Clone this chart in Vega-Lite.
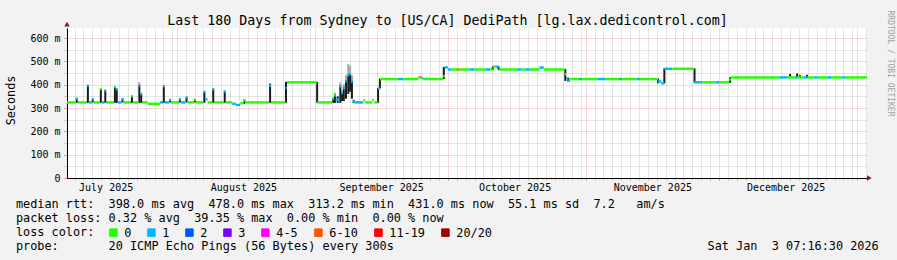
{
  "$schema": "https://vega.github.io/schema/vega-lite/v6.json",
  "width": 800,
  "height": 150,
  "autosize": {"type": "none"},
  "padding": {"left": 67, "top": 28, "right": 30, "bottom": 82},
  "background": "#f2f2f2",
  "config": {
    "view": {"fill": "#ffffff", "stroke": null},
    "font": "DejaVu Sans Mono",
    "axis": {"labelFont": "DejaVu Sans Mono", "titleFont": "DejaVu Sans Mono", "titleFontWeight": "normal", "labelColor": "#000000", "titleColor": "#000000", "domainColor": "#1f1f1f", "domainWidth": 1},
    "legend": {"labelFont": "DejaVu Sans Mono"}
  },
  "datasets": {
    "median": [
      {"t":"2025-07-07T07:16:30Z","t2":"2025-07-09T07:00:00Z","v":324,"loss":"0"},
      {"t":"2025-07-09T07:00:00Z","t2":"2025-07-09T19:00:00Z","v":340,"loss":"1"},
      {"t":"2025-07-09T19:00:00Z","t2":"2025-07-11T19:00:00Z","v":324,"loss":"0"},
      {"t":"2025-07-11T19:00:00Z","t2":"2025-07-12T05:00:00Z","v":396,"loss":"1"},
      {"t":"2025-07-12T05:00:00Z","t2":"2025-07-12T22:00:00Z","v":324,"loss":"1"},
      {"t":"2025-07-12T22:00:00Z","t2":"2025-07-13T07:00:00Z","v":338,"loss":"1"},
      {"t":"2025-07-13T07:00:00Z","t2":"2025-07-14T17:00:00Z","v":324,"loss":"0"},
      {"t":"2025-07-14T17:00:00Z","t2":"2025-07-15T02:00:00Z","v":381,"loss":"0"},
      {"t":"2025-07-15T02:00:00Z","t2":"2025-07-15T17:00:00Z","v":324,"loss":"1"},
      {"t":"2025-07-15T17:00:00Z","t2":"2025-07-16T02:00:00Z","v":375,"loss":"1"},
      {"t":"2025-07-16T02:00:00Z","t2":"2025-07-17T22:00:00Z","v":324,"loss":"0"},
      {"t":"2025-07-17T22:00:00Z","t2":"2025-07-18T07:00:00Z","v":390,"loss":"0"},
      {"t":"2025-07-18T07:00:00Z","t2":"2025-07-18T17:00:00Z","v":380,"loss":"1"},
      {"t":"2025-07-18T17:00:00Z","t2":"2025-07-19T14:00:00Z","v":324,"loss":"1"},
      {"t":"2025-07-19T14:00:00Z","t2":"2025-07-20T00:00:00Z","v":338,"loss":"1"},
      {"t":"2025-07-20T00:00:00Z","t2":"2025-07-21T17:00:00Z","v":324,"loss":"0"},
      {"t":"2025-07-21T17:00:00Z","t2":"2025-07-22T02:00:00Z","v":350,"loss":"0"},
      {"t":"2025-07-22T02:00:00Z","t2":"2025-07-23T10:00:00Z","v":324,"loss":"0"},
      {"t":"2025-07-23T10:00:00Z","t2":"2025-07-23T19:00:00Z","v":396,"loss":"1"},
      {"t":"2025-07-23T19:00:00Z","t2":"2025-07-24T05:00:00Z","v":360,"loss":"1"},
      {"t":"2025-07-24T05:00:00Z","t2":"2025-07-25T10:00:00Z","v":324,"loss":"0"},
      {"t":"2025-07-25T10:00:00Z","t2":"2025-07-28T05:00:00Z","v":318,"loss":"0"},
      {"t":"2025-07-28T05:00:00Z","t2":"2025-07-28T22:00:00Z","v":324,"loss":"1"},
      {"t":"2025-07-28T22:00:00Z","t2":"2025-07-29T07:00:00Z","v":393,"loss":"1"},
      {"t":"2025-07-29T07:00:00Z","t2":"2025-07-30T07:00:00Z","v":324,"loss":"1"},
      {"t":"2025-07-30T07:00:00Z","t2":"2025-07-30T17:00:00Z","v":335,"loss":"1"},
      {"t":"2025-07-30T17:00:00Z","t2":"2025-08-01T12:00:00Z","v":324,"loss":"0"},
      {"t":"2025-08-01T12:00:00Z","t2":"2025-08-01T22:00:00Z","v":338,"loss":"1"},
      {"t":"2025-08-01T22:00:00Z","t2":"2025-08-03T00:00:00Z","v":324,"loss":"1"},
      {"t":"2025-08-03T00:00:00Z","t2":"2025-08-03T10:00:00Z","v":345,"loss":"1"},
      {"t":"2025-08-03T10:00:00Z","t2":"2025-08-04T22:00:00Z","v":324,"loss":"0"},
      {"t":"2025-08-04T22:00:00Z","t2":"2025-08-05T07:00:00Z","v":335,"loss":"0"},
      {"t":"2025-08-05T07:00:00Z","t2":"2025-08-07T00:00:00Z","v":324,"loss":"0"},
      {"t":"2025-08-07T00:00:00Z","t2":"2025-08-07T10:00:00Z","v":369,"loss":"1"},
      {"t":"2025-08-07T10:00:00Z","t2":"2025-08-07T22:00:00Z","v":337,"loss":"1"},
      {"t":"2025-08-07T22:00:00Z","t2":"2025-08-09T00:00:00Z","v":324,"loss":"0"},
      {"t":"2025-08-09T00:00:00Z","t2":"2025-08-09T10:00:00Z","v":381,"loss":"1"},
      {"t":"2025-08-09T10:00:00Z","t2":"2025-08-11T14:00:00Z","v":324,"loss":"0"},
      {"t":"2025-08-11T14:00:00Z","t2":"2025-08-12T00:00:00Z","v":371,"loss":"1"},
      {"t":"2025-08-12T00:00:00Z","t2":"2025-08-13T12:00:00Z","v":324,"loss":"0"},
      {"t":"2025-08-13T12:00:00Z","t2":"2025-08-14T07:00:00Z","v":318,"loss":"1"},
      {"t":"2025-08-14T07:00:00Z","t2":"2025-08-15T07:00:00Z","v":313,"loss":"1"},
      {"t":"2025-08-15T07:00:00Z","t2":"2025-08-15T22:00:00Z","v":320,"loss":"0"},
      {"t":"2025-08-15T22:00:00Z","t2":"2025-08-16T12:00:00Z","v":333,"loss":"0"},
      {"t":"2025-08-16T12:00:00Z","t2":"2025-08-21T19:00:00Z","v":324,"loss":"0"},
      {"t":"2025-08-21T19:00:00Z","t2":"2025-08-22T05:00:00Z","v":396,"loss":"1"},
      {"t":"2025-08-22T05:00:00Z","t2":"2025-08-25T12:00:00Z","v":324,"loss":"0"},
      {"t":"2025-08-25T12:00:00Z","t2":"2025-08-25T19:00:00Z","v":386,"loss":"1"},
      {"t":"2025-08-25T19:00:00Z","t2":"2025-09-01T14:00:00Z","v":410,"loss":"0"},
      {"t":"2025-09-01T14:00:00Z","t2":"2025-09-05T00:00:00Z","v":324,"loss":"0"},
      {"t":"2025-09-05T00:00:00Z","t2":"2025-09-05T10:00:00Z","v":340,"loss":"1"},
      {"t":"2025-09-05T10:00:00Z","t2":"2025-09-05T19:00:00Z","v":355,"loss":"0"},
      {"t":"2025-09-05T19:00:00Z","t2":"2025-09-06T12:00:00Z","v":335,"loss":"1"},
      {"t":"2025-09-06T12:00:00Z","t2":"2025-09-07T00:00:00Z","v":393,"loss":"1"},
      {"t":"2025-09-07T00:00:00Z","t2":"2025-09-07T10:00:00Z","v":365,"loss":"1"},
      {"t":"2025-09-07T10:00:00Z","t2":"2025-09-07T22:00:00Z","v":385,"loss":"1"},
      {"t":"2025-09-07T22:00:00Z","t2":"2025-09-08T07:00:00Z","v":415,"loss":"1"},
      {"t":"2025-09-08T07:00:00Z","t2":"2025-09-08T19:00:00Z","v":440,"loss":"1"},
      {"t":"2025-09-08T19:00:00Z","t2":"2025-09-09T05:00:00Z","v":445,"loss":"1"},
      {"t":"2025-09-09T05:00:00Z","t2":"2025-09-09T14:00:00Z","v":412,"loss":"1"},
      {"t":"2025-09-09T14:00:00Z","t2":"2025-09-10T00:00:00Z","v":330,"loss":"1"},
      {"t":"2025-09-10T00:00:00Z","t2":"2025-09-12T00:00:00Z","v":324,"loss":"1"},
      {"t":"2025-09-12T00:00:00Z","t2":"2025-09-12T10:00:00Z","v":333,"loss":"0"},
      {"t":"2025-09-12T10:00:00Z","t2":"2025-09-14T00:00:00Z","v":324,"loss":"0"},
      {"t":"2025-09-14T00:00:00Z","t2":"2025-09-14T10:00:00Z","v":334,"loss":"0"},
      {"t":"2025-09-14T10:00:00Z","t2":"2025-09-15T05:00:00Z","v":324,"loss":"0"},
      {"t":"2025-09-15T05:00:00Z","t2":"2025-09-15T17:00:00Z","v":384,"loss":"1"},
      {"t":"2025-09-15T17:00:00Z","t2":"2025-09-19T19:00:00Z","v":424,"loss":"0"},
      {"t":"2025-09-19T19:00:00Z","t2":"2025-09-21T00:00:00Z","v":424,"loss":"1"},
      {"t":"2025-09-21T00:00:00Z","t2":"2025-09-24T07:00:00Z","v":424,"loss":"0"},
      {"t":"2025-09-24T07:00:00Z","t2":"2025-09-24T19:00:00Z","v":431,"loss":"0"},
      {"t":"2025-09-24T19:00:00Z","t2":"2025-09-25T02:00:00Z","v":431,"loss":"6-10"},
      {"t":"2025-09-25T02:00:00Z","t2":"2025-09-25T10:00:00Z","v":428,"loss":"1"},
      {"t":"2025-09-25T10:00:00Z","t2":"2025-09-29T22:00:00Z","v":424,"loss":"0"},
      {"t":"2025-09-29T22:00:00Z","t2":"2025-09-30T07:00:00Z","v":436,"loss":"0"},
      {"t":"2025-09-30T07:00:00Z","t2":"2025-10-01T00:00:00Z","v":474,"loss":"1"},
      {"t":"2025-10-01T00:00:00Z","t2":"2025-10-01T19:00:00Z","v":465,"loss":"1"},
      {"t":"2025-10-01T19:00:00Z","t2":"2025-10-03T02:00:00Z","v":465,"loss":"0"},
      {"t":"2025-10-03T02:00:00Z","t2":"2025-10-03T12:00:00Z","v":465,"loss":"6-10"},
      {"t":"2025-10-03T12:00:00Z","t2":"2025-10-06T00:00:00Z","v":465,"loss":"0"},
      {"t":"2025-10-06T00:00:00Z","t2":"2025-10-07T00:00:00Z","v":465,"loss":"1"},
      {"t":"2025-10-07T00:00:00Z","t2":"2025-10-09T12:00:00Z","v":465,"loss":"0"},
      {"t":"2025-10-09T12:00:00Z","t2":"2025-10-10T12:00:00Z","v":465,"loss":"1"},
      {"t":"2025-10-10T12:00:00Z","t2":"2025-10-11T02:00:00Z","v":465,"loss":"0"},
      {"t":"2025-10-11T02:00:00Z","t2":"2025-10-11T19:00:00Z","v":477,"loss":"0"},
      {"t":"2025-10-11T19:00:00Z","t2":"2025-10-12T10:00:00Z","v":477,"loss":"1"},
      {"t":"2025-10-12T10:00:00Z","t2":"2025-10-16T12:00:00Z","v":465,"loss":"0"},
      {"t":"2025-10-16T12:00:00Z","t2":"2025-10-17T12:00:00Z","v":465,"loss":"1"},
      {"t":"2025-10-17T12:00:00Z","t2":"2025-10-18T12:00:00Z","v":465,"loss":"0"},
      {"t":"2025-10-18T12:00:00Z","t2":"2025-10-19T12:00:00Z","v":465,"loss":"1"},
      {"t":"2025-10-19T12:00:00Z","t2":"2025-10-21T14:00:00Z","v":465,"loss":"0"},
      {"t":"2025-10-21T14:00:00Z","t2":"2025-10-22T14:00:00Z","v":473,"loss":"1"},
      {"t":"2025-10-22T14:00:00Z","t2":"2025-10-27T07:00:00Z","v":465,"loss":"0"},
      {"t":"2025-10-27T07:00:00Z","t2":"2025-10-27T14:00:00Z","v":445,"loss":"0"},
      {"t":"2025-10-27T14:00:00Z","t2":"2025-10-28T00:00:00Z","v":428,"loss":"1"},
      {"t":"2025-10-28T00:00:00Z","t2":"2025-10-28T12:00:00Z","v":417,"loss":"1"},
      {"t":"2025-10-28T12:00:00Z","t2":"2025-10-30T12:00:00Z","v":424,"loss":"0"},
      {"t":"2025-10-30T12:00:00Z","t2":"2025-10-31T05:00:00Z","v":424,"loss":"1"},
      {"t":"2025-10-31T05:00:00Z","t2":"2025-11-03T19:00:00Z","v":424,"loss":"0"},
      {"t":"2025-11-03T19:00:00Z","t2":"2025-11-05T12:00:00Z","v":424,"loss":"1"},
      {"t":"2025-11-05T12:00:00Z","t2":"2025-11-08T12:00:00Z","v":424,"loss":"0"},
      {"t":"2025-11-08T12:00:00Z","t2":"2025-11-09T05:00:00Z","v":424,"loss":"1"},
      {"t":"2025-11-09T05:00:00Z","t2":"2025-11-12T12:00:00Z","v":424,"loss":"0"},
      {"t":"2025-11-12T12:00:00Z","t2":"2025-11-13T05:00:00Z","v":424,"loss":"1"},
      {"t":"2025-11-13T05:00:00Z","t2":"2025-11-17T07:00:00Z","v":424,"loss":"0"},
      {"t":"2025-11-17T07:00:00Z","t2":"2025-11-18T00:00:00Z","v":414,"loss":"1"},
      {"t":"2025-11-18T00:00:00Z","t2":"2025-11-18T17:00:00Z","v":406,"loss":"1"},
      {"t":"2025-11-18T17:00:00Z","t2":"2025-11-20T12:00:00Z","v":468,"loss":"1"},
      {"t":"2025-11-20T12:00:00Z","t2":"2025-11-25T10:00:00Z","v":468,"loss":"0"},
      {"t":"2025-11-25T10:00:00Z","t2":"2025-11-27T05:00:00Z","v":410,"loss":"1"},
      {"t":"2025-11-27T05:00:00Z","t2":"2025-11-30T05:00:00Z","v":410,"loss":"0"},
      {"t":"2025-11-30T05:00:00Z","t2":"2025-12-01T00:00:00Z","v":410,"loss":"1"},
      {"t":"2025-12-01T00:00:00Z","t2":"2025-12-03T07:00:00Z","v":410,"loss":"0"},
      {"t":"2025-12-03T07:00:00Z","t2":"2025-12-03T17:00:00Z","v":422,"loss":"0"},
      {"t":"2025-12-03T17:00:00Z","t2":"2025-12-14T17:00:00Z","v":431,"loss":"0"},
      {"t":"2025-12-14T17:00:00Z","t2":"2025-12-16T07:00:00Z","v":431,"loss":"1"},
      {"t":"2025-12-16T07:00:00Z","t2":"2025-12-18T00:00:00Z","v":431,"loss":"0"},
      {"t":"2025-12-18T00:00:00Z","t2":"2025-12-18T12:00:00Z","v":431,"loss":"1"},
      {"t":"2025-12-18T12:00:00Z","t2":"2025-12-20T00:00:00Z","v":431,"loss":"0"},
      {"t":"2025-12-20T00:00:00Z","t2":"2025-12-21T00:00:00Z","v":431,"loss":"1"},
      {"t":"2025-12-21T00:00:00Z","t2":"2025-12-22T12:00:00Z","v":431,"loss":"0"},
      {"t":"2025-12-22T12:00:00Z","t2":"2025-12-23T05:00:00Z","v":431,"loss":"1"},
      {"t":"2025-12-23T05:00:00Z","t2":"2025-12-25T12:00:00Z","v":431,"loss":"0"},
      {"t":"2025-12-25T12:00:00Z","t2":"2025-12-26T05:00:00Z","v":431,"loss":"1"},
      {"t":"2025-12-26T05:00:00Z","t2":"2025-12-28T19:00:00Z","v":431,"loss":"0"},
      {"t":"2025-12-28T19:00:00Z","t2":"2025-12-29T12:00:00Z","v":431,"loss":"1"},
      {"t":"2025-12-29T12:00:00Z","t2":"2026-01-03T07:16:30Z","v":431,"loss":"0"}
    ],
    "smoke_core": [
      {"t":"2025-07-09T12:00:00Z","lo":322,"hi":342},
      {"t":"2025-07-12T00:00:00Z","lo":322,"hi":398},
      {"t":"2025-07-13T02:00:00Z","lo":324,"hi":338},
      {"t":"2025-07-14T22:00:00Z","lo":322,"hi":383},
      {"t":"2025-07-15T22:00:00Z","lo":322,"hi":377},
      {"t":"2025-07-18T02:00:00Z","lo":322,"hi":392},
      {"t":"2025-07-18T12:00:00Z","lo":322,"hi":382},
      {"t":"2025-07-19T19:00:00Z","lo":324,"hi":340},
      {"t":"2025-07-21T22:00:00Z","lo":322,"hi":352},
      {"t":"2025-07-23T14:00:00Z","lo":322,"hi":398},
      {"t":"2025-07-24T00:00:00Z","lo":322,"hi":362},
      {"t":"2025-07-29T02:00:00Z","lo":322,"hi":395},
      {"t":"2025-07-30T12:00:00Z","lo":324,"hi":337},
      {"t":"2025-08-01T17:00:00Z","lo":324,"hi":340},
      {"t":"2025-08-03T05:00:00Z","lo":324,"hi":347},
      {"t":"2025-08-05T02:00:00Z","lo":324,"hi":337},
      {"t":"2025-08-07T05:00:00Z","lo":322,"hi":371},
      {"t":"2025-08-09T05:00:00Z","lo":322,"hi":383},
      {"t":"2025-08-11T19:00:00Z","lo":322,"hi":373},
      {"t":"2025-08-16T05:00:00Z","lo":318,"hi":335},
      {"t":"2025-08-22T00:00:00Z","lo":322,"hi":405},
      {"t":"2025-08-25T14:00:00Z","lo":322,"hi":412},
      {"t":"2025-09-01T14:00:00Z","lo":322,"hi":412},
      {"t":"2025-09-05T05:00:00Z","lo":322,"hi":342},
      {"t":"2025-09-05T14:00:00Z","lo":322,"hi":358},
      {"t":"2025-09-06T05:00:00Z","lo":322,"hi":350},
      {"t":"2025-09-06T19:00:00Z","lo":322,"hi":396},
      {"t":"2025-09-07T05:00:00Z","lo":330,"hi":370},
      {"t":"2025-09-07T14:00:00Z","lo":330,"hi":390},
      {"t":"2025-09-08T02:00:00Z","lo":340,"hi":420},
      {"t":"2025-09-08T14:00:00Z","lo":360,"hi":445},
      {"t":"2025-09-09T00:00:00Z","lo":370,"hi":448},
      {"t":"2025-09-09T10:00:00Z","lo":340,"hi":415},
      {"t":"2025-09-09T19:00:00Z","lo":322,"hi":335},
      {"t":"2025-09-15T07:00:00Z","lo":322,"hi":386},
      {"t":"2025-09-15T17:00:00Z","lo":384,"hi":426},
      {"t":"2025-09-30T02:00:00Z","lo":424,"hi":476},
      {"t":"2025-10-11T02:00:00Z","lo":463,"hi":478},
      {"t":"2025-10-12T10:00:00Z","lo":463,"hi":478},
      {"t":"2025-10-27T10:00:00Z","lo":416,"hi":467},
      {"t":"2025-10-28T02:00:00Z","lo":414,"hi":430},
      {"t":"2025-11-17T07:00:00Z","lo":406,"hi":426},
      {"t":"2025-11-18T17:00:00Z","lo":405,"hi":470},
      {"t":"2025-11-25T12:00:00Z","lo":408,"hi":470},
      {"t":"2025-12-03T12:00:00Z","lo":408,"hi":432},
      {"t":"2025-12-17T00:00:00Z","lo":430,"hi":446},
      {"t":"2025-12-18T14:00:00Z","lo":429,"hi":448},
      {"t":"2025-12-19T05:00:00Z","lo":430,"hi":441},
      {"t":"2025-12-20T19:00:00Z","lo":430,"hi":442}
    ],
    "smoke_halo": [
      {"t":"2025-07-23T14:00:00Z","lo":396,"hi":410},
      {"t":"2025-09-05T14:00:00Z","lo":350,"hi":366},
      {"t":"2025-09-06T19:00:00Z","lo":390,"hi":410},
      {"t":"2025-09-07T14:00:00Z","lo":385,"hi":402},
      {"t":"2025-09-08T02:00:00Z","lo":415,"hi":440},
      {"t":"2025-09-08T14:00:00Z","lo":440,"hi":488},
      {"t":"2025-09-09T00:00:00Z","lo":445,"hi":482},
      {"t":"2025-09-09T10:00:00Z","lo":410,"hi":440}
    ]
  },
  "resolve": {"axis": {"x": "independent", "y": "independent"}},
  "layer": [
    {
      "data": {"name": "smoke_halo"},
      "mark": {"type": "rule", "strokeWidth": 2, "color": "#a8a8a8"},
      "encoding": {
        "x": {
          "field": "t", "type": "temporal",
          "scale": {"type": "utc", "domain": [{"year": 2025, "month": 7, "date": 7, "hours": 7, "minutes": 16, "seconds": 30, "utc": true}, {"year": 2026, "month": 1, "date": 3, "hours": 7, "minutes": 16, "seconds": 30, "utc": true}]},
          "axis": {
            "orient": "bottom", "tickCount": {"interval": "day", "step": 2}, "labels": false, "title": null,
            "grid": true, "gridDash": [1, 1],
            "gridColor": {"condition": {"test": "utcdate(datum.value) === 1", "value": "rgba(222,79,79,0.45)"}, "value": "rgba(143,143,143,0.45)"},
            "ticks": true, "tickSize": 2,
            "tickColor": {"condition": {"test": "utcdate(datum.value) === 1", "value": "rgba(222,79,79,0.7)"}, "value": "rgba(143,143,143,0.5)"},
            "domain": true, "domainColor": "#000000"
          }
        },
        "y": {
          "field": "lo", "type": "quantitative",
          "scale": {"domain": [0, 642.86], "nice": false, "zero": true},
          "axis": {
            "orient": "left", "values": [0, 50, 100, 150, 200, 250, 300, 350, 400, 450, 500, 550, 600],
            "labelExpr": "datum.value % 100 !== 0 ? '' : (datum.value === 0 ? '0' : datum.value + ' m')",
            "labelFontSize": 10, "labelPadding": 4, "labelBaseline": "middle", "labelOverlap": false,
            "grid": true, "gridDash": [1, 1],
            "gridColor": {"condition": {"test": "datum.value % 100 === 0", "value": "rgba(222,79,79,0.45)"}, "value": "rgba(143,143,143,0.45)"},
            "ticks": true, "tickSize": 3,
            "tickColor": {"condition": {"test": "datum.value % 100 === 0", "value": "rgba(222,79,79,0.7)"}, "value": "rgba(143,143,143,0.5)"},
            "domain": true, "domainColor": "#000000",
            "title": "Seconds", "titleX": -52.5, "titleY": 72, "titleAngle": -90, "titleAlign": "center", "titleBaseline": "alphabetic", "titleFontSize": 11.8
          }
        },
        "y2": {"field": "hi"}
      }
    },
    {
      "data": {"name": "smoke_core"},
      "mark": {"type": "rule", "strokeWidth": 2, "color": "#1c1c1c"},
      "encoding": {
        "x": {
          "field": "t", "type": "temporal",
          "scale": {"type": "utc", "domain": [{"year": 2025, "month": 7, "date": 7, "hours": 7, "minutes": 16, "seconds": 30, "utc": true}, {"year": 2026, "month": 1, "date": 3, "hours": 7, "minutes": 16, "seconds": 30, "utc": true}]},
          "axis": {
            "orient": "bottom",
            "values": [
              {"year": 2025, "month": 7, "date": 16, "utc": true},
              {"year": 2025, "month": 8, "date": 16, "utc": true},
              {"year": 2025, "month": 9, "date": 16, "utc": true},
              {"year": 2025, "month": 10, "date": 16, "utc": true},
              {"year": 2025, "month": 11, "date": 16, "utc": true},
              {"year": 2025, "month": 12, "date": 16, "utc": true}
            ],
            "labelExpr": "utcFormat(datum.value, '%B %Y')",
            "labelFontSize": 10, "labelBaseline": "alphabetic", "labelPadding": 12.7,
            "labelFlush": false, "labelOverlap": false, "labelBound": false,
            "ticks": false, "grid": false, "domain": false,
            "title": [
              "median\u00a0rtt:\u00a0\u00a0398.0\u00a0ms\u00a0avg\u00a0\u00a0478.0\u00a0ms\u00a0max\u00a0\u00a0313.2\u00a0ms\u00a0min\u00a0\u00a0431.0\u00a0ms\u00a0now\u00a0\u00a055.1\u00a0ms\u00a0sd\u00a0\u00a07.2\u00a0\u00a0\u00a0am/s",
              "packet\u00a0loss:\u00a00.32\u00a0%\u00a0avg\u00a0\u00a039.35\u00a0%\u00a0max\u00a0\u00a00.00\u00a0%\u00a0min\u00a0\u00a00.00\u00a0%\u00a0now",
              "loss\u00a0color:",
              "probe:\u00a0\u00a0\u00a0\u00a0\u00a0\u00a0\u00a020\u00a0ICMP\u00a0Echo\u00a0Pings\u00a0(56\u00a0Bytes)\u00a0every\u00a0300s\u00a0\u00a0\u00a0\u00a0\u00a0\u00a0\u00a0\u00a0\u00a0\u00a0\u00a0\u00a0\u00a0\u00a0\u00a0\u00a0\u00a0\u00a0\u00a0\u00a0\u00a0\u00a0\u00a0\u00a0\u00a0\u00a0\u00a0\u00a0\u00a0\u00a0\u00a0\u00a0\u00a0\u00a0\u00a0\u00a0\u00a0\u00a0\u00a0\u00a0\u00a0\u00a0\u00a0\u00a0Sat\u00a0Jan\u00a0\u00a03\u00a007:16:30\u00a02026"
            ],
            "titleX": -51.6, "titleY": 29.3, "titleAlign": "left", "titleAnchor": "start", "titleBaseline": "alphabetic",
            "titleFontSize": 11.85, "titleLineHeight": 14
          }
        },
        "y": {
          "field": "lo", "type": "quantitative",
          "scale": {"domain": [0, 642.86], "nice": false, "zero": true},
          "axis": {
            "orient": "right", "labels": false, "ticks": false, "grid": false, "domain": false,
            "title": "RRDTOOL / TOBI OETIKER", "titleAngle": 90, "titleX": 22, "titleY": 35,
            "titleAlign": "center", "titleBaseline": "middle", "titleFontSize": 8, "titleColor": "#a0a0a0"
          }
        },
        "y2": {"field": "hi"}
      }
    },
    {
      "data": {"name": "median"},
      "mark": {"type": "rule", "strokeWidth": 2.5},
      "encoding": {
        "x": {
          "field": "t", "type": "temporal",
          "scale": {"type": "utc", "domain": [{"year": 2025, "month": 7, "date": 7, "hours": 7, "minutes": 16, "seconds": 30, "utc": true}, {"year": 2026, "month": 1, "date": 3, "hours": 7, "minutes": 16, "seconds": 30, "utc": true}]},
          "axis": null
        },
        "x2": {"field": "t2"},
        "y": {"field": "v", "type": "quantitative", "scale": {"domain": [0, 642.86], "nice": false, "zero": true}, "axis": null},
        "color": {
          "field": "loss", "type": "nominal",
          "scale": {
            "domain": ["0", "1", "2", "3", "4-5", "6-10", "11-19", "20/20"],
            "range": ["#26ff00", "#00b8ff", "#0059ff", "#7e00ff", "#ff00ff", "#ff5500", "#ff0000", "#a10000"]
          },
          "legend": {
            "orient": "none", "legendX": 40.5, "legendY": 198.6, "direction": "horizontal", "columns": 8, "title": null,
            "symbolType": "square", "symbolSize": 56, "symbolStrokeWidth": 1, "symbolStrokeColor": "#000000", "symbolOpacity": 1,
            "labelFontSize": 11.85, "labelColor": "#000000", "labelOffset": 5, "columnPadding": 14, "padding": 0,
            "encode": {"symbols": {"update": {"fill": {"scale": "color", "field": "value"}, "stroke": {"value": "#000000"}, "strokeWidth": {"value": 1}, "opacity": {"value": 1}, "fillOpacity": {"value": 1}}}}
          }
        }
      }
    },
    {
      "data": {"values": [{}]},
      "mark": {"type": "point", "shape": "triangle-up", "filled": true, "size": 30, "color": "#801f1f", "opacity": 1},
      "encoding": {
        "x": {
          "datum": {"year": 2025, "month": 7, "date": 7, "hours": 7, "minutes": 16, "seconds": 30, "utc": true}, "type": "temporal",
          "scale": {"type": "utc", "domain": [{"year": 2025, "month": 7, "date": 7, "hours": 7, "minutes": 16, "seconds": 30, "utc": true}, {"year": 2026, "month": 1, "date": 3, "hours": 7, "minutes": 16, "seconds": 30, "utc": true}]},
          "axis": {
            "orient": "top", "labels": false, "ticks": false, "grid": false, "domain": false,
            "title": "Last 180 Days from Sydney to [US/CA] DediPath [lg.lax.dedicontrol.com]",
            "titleX": 380, "titleY": -4, "titleAlign": "center", "titleBaseline": "alphabetic", "titleFontSize": 13.3, "titleColor": "#000000"
          }
        },
        "y": {"datum": 659, "type": "quantitative", "scale": {"domain": [0, 642.86], "nice": false, "zero": true}, "axis": null}
      }
    },
    {
      "data": {"values": [{}]},
      "mark": {"type": "point", "shape": "triangle-right", "filled": true, "size": 30, "color": "#801f1f", "opacity": 1},
      "encoding": {
        "x": {
          "datum": {"year": 2026, "month": 1, "date": 3, "hours": 20, "utc": true}, "type": "temporal",
          "scale": {"type": "utc", "domain": [{"year": 2025, "month": 7, "date": 7, "hours": 7, "minutes": 16, "seconds": 30, "utc": true}, {"year": 2026, "month": 1, "date": 3, "hours": 7, "minutes": 16, "seconds": 30, "utc": true}]},
          "axis": null
        },
        "y": {"datum": 0, "type": "quantitative", "scale": {"domain": [0, 642.86], "nice": false, "zero": true}, "axis": null}
      }
    }
  ]
}
